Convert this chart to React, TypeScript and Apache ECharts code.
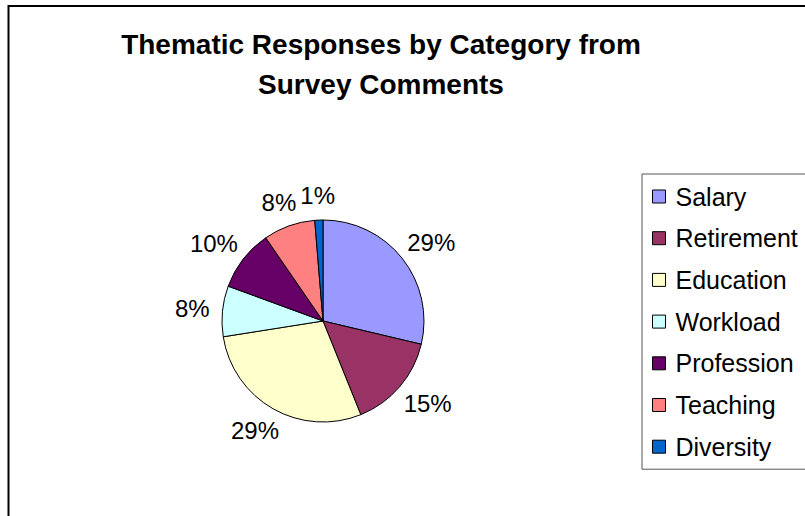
import React, { useEffect, useRef } from 'react';
import * as echarts from 'echarts';

const categories = ['Salary', 'Retirement', 'Education', 'Workload', 'Profession', 'Teaching', 'Diversity'];
const values = [28.7, 15.2, 28.6, 8.1, 9.8, 8.3, 1.3];
const colors = ['#9999FF', '#993366', '#FFFFCC', '#CCFFFF', '#660066', '#FF8080', '#0066CC'];
const titleLines = ['Thematic Responses by Category from', 'Survey Comments'];

const FONT = '"Liberation Sans", Arial, Helvetica, sans-serif';
const CX = 323;
const CY = 321;
const R = 101;
const GAP = 13;

export default function App() {
  const ref = useRef<HTMLDivElement>(null);
  useEffect(() => {
    const chart = echarts.init(ref.current!, null, { renderer: 'svg' });
    const total = values.reduce((a, b) => a + b, 0);
    chart.setOption({
      animation: false,
      backgroundColor: '#ffffff',
      title: {
        text: titleLines.join('\n'),
        left: 376,
        top: 19,
        textAlign: 'center',
        textStyle: { fontFamily: FONT, fontSize: 28, fontWeight: 'bold', color: '#000', lineHeight: 40 },
      },
      legend: {
        orient: 'vertical',
        left: 642,
        top: 174,
        padding: 10,
        itemWidth: 13,
        itemHeight: 13,
        itemGap: 16.7,
        icon: 'rect',
        borderColor: '#555',
        borderWidth: 1,
        backgroundColor: '#fff',
        selectedMode: false,
        itemStyle: { borderColor: '#000', borderWidth: 1 },
        textStyle: { fontFamily: FONT, fontSize: 25, color: '#000', lineHeight: 25, padding: [0, 0, 0, 5] },
        data: categories,
      },
      graphic: [
        {
          type: 'rect',
          silent: true,
          z: 100,
          shape: { x: 8.5, y: 6, width: 900, height: 600 },
          style: { fill: 'none', stroke: '#000', lineWidth: 2 },
        },
      ],
      series: [
        {
          type: 'pie',
          center: [CX, CY],
          radius: R,
          startAngle: 90,
          clockwise: true,
          avoidLabelOverlap: false,
          itemStyle: { borderColor: '#000', borderWidth: 1 },
          label: {
            show: true,
            position: 'outside',
            fontFamily: FONT,
            fontSize: 24,
            color: '#000',
            lineHeight: 24,
            formatter: (p: any) => Math.round(p.percent) + '%',
          },
          labelLine: { show: false },
          labelLayout: (params: any) => {
            const i = params.dataIndex;
            let cum = 0;
            for (let j = 0; j < i; j++) cum += values[j];
            const a = ((cum + values[i] / 2) / total) * 2 * Math.PI;
            const dx = Math.sin(a);
            const dy = -Math.cos(a);
            const w = params.labelRect.width / 2;
            const h = 12;
            return {
              x: CX + dx * (R + GAP) + dx * w,
              y: CY + dy * (R + GAP) + dy * h,
              align: 'center',
              verticalAlign: 'middle',
            };
          },
          emphasis: { disabled: true },
          data: categories.map((name, i) => ({ name, value: values[i], itemStyle: { color: colors[i] } })),
        },
      ],
    });
    return () => chart.dispose();
  }, []);
  return <div ref={ref} style={{ position: 'absolute', left: 0, top: 0, width: 805, height: 516 }} />;
}
